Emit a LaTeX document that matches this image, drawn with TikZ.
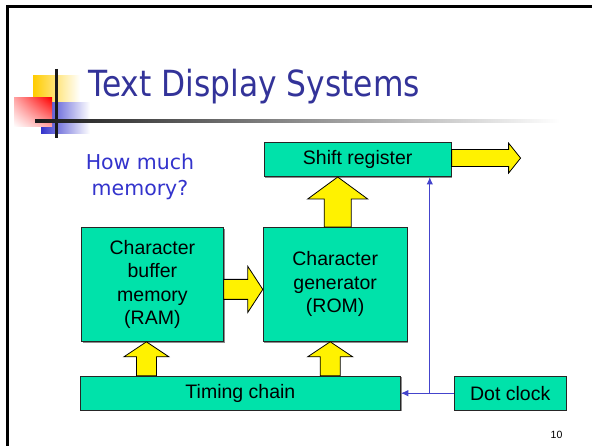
\documentclass[tikz,border=0pt]{standalone}
\usepackage{fontspec}
\setmainfont{Liberation Sans}
\newfontfamily\titlefont[FakeStretch=0.87]{DejaVu Sans}
\newfontfamily\notefont{DejaVu Sans}
\usetikzlibrary{positioning,calc,arrows.meta,shadows,shadings}

\definecolor{boxgreen}{RGB}{0,226,170}
\definecolor{titleblue}{RGB}{51,51,153}
\definecolor{noteblue}{RGB}{51,51,204}
\definecolor{clockblue}{RGB}{68,68,204}
\definecolor{logoyellow}{RGB}{255,204,0}
\definecolor{logored}{RGB}{255,0,0}
\definecolor{logoblue}{RGB}{51,51,204}

% fat yellow arrows: x from #1, base y from #2, tip y from #3
\newcommand{\fatup}[6]{%
  \draw[fatarrow] let \p1=#1, \p2=#2, \p3=#3 in
    (\x1-#4pt,\y2) -- (\x1-#4pt,\y3-#6pt) -- (\x1-#5pt,\y3-#6pt) -- (\x1,\y3)
    -- (\x1+#5pt,\y3-#6pt) -- (\x1+#4pt,\y3-#6pt) -- (\x1+#4pt,\y2) -- cycle;}
% y from #1, base x from #2, tip x from #3
\newcommand{\fatright}[6]{%
  \draw[fatarrow] let \p1=#1, \p2=#2, \p3=#3 in
    (\x2,\y1+#4pt) -- (\x3-#6pt,\y1+#4pt) -- (\x3-#6pt,\y1+#5pt) -- (\x3,\y1)
    -- (\x3-#6pt,\y1-#5pt) -- (\x3-#6pt,\y1-#4pt) -- (\x2,\y1-#4pt) -- cycle;}

\begin{document}
\begin{tikzpicture}[x=1pt, y=-1pt,
    block/.style={draw=black!85, line width=0.8pt, fill=boxgreen, inner sep=0pt, align=center,
                  font=\fontsize{19.5}{23.5}\selectfont,
                  drop shadow={shadow xshift=1.2pt, shadow yshift=-1.2pt, fill=black!45, opacity=1}},
    fatarrow/.style={draw=black, line width=0.8pt, fill=yellow},
    clockline/.style={draw=clockblue, line width=1pt, -{Latex[length=7.5pt,width=6.5pt]}}]
\useasboundingbox (0,0) rectangle (592,446);

% frame
\draw[line width=2.5pt] (7.5,5) -- (7.5,446);
\draw[line width=2.5pt] (6,6.5) -- (592,6.5);

% logo
\shade[left color=logoyellow, middle color=logoyellow, right color=white] (33,76) rectangle (80,104);
\shade[left color=logoblue, middle color=logoblue, right color=white] (41,103) rectangle (90,134);
\shade[upper right=logored, lower right=logored!35, upper left=logored!35, lower left=white] (14,98) rectangle (52,127);
\draw[line width=2.5pt, black!90] (56.7,69) -- (56.7,138);
\shade[left color=black!90, right color=white] (35,119.8) rectangle (560,122.5);

\node[anchor=base west, inner sep=0pt, text=titleblue, font=\titlefont\fontsize{36}{40}\selectfont] (title) at (88,97) {Text Display Systems};
\node[inner sep=0pt, align=center, text=noteblue, font=\notefont\fontsize{20.5}{26}\selectfont] (howmuch) at (140,176.6) {How much\\memory?};

% blocks
\node[block, minimum width=142pt, minimum height=114pt, anchor=north west] (ram) at (81,227) {Character\\buffer\\memory\\(RAM)};
\node[block, minimum width=144pt, minimum height=114pt, right=39pt of ram] (rom) {Character\\generator\\(ROM)};
\node[block, minimum width=187pt, minimum height=34pt, above=50pt of rom.north west, anchor=south west, xshift=1pt] (shift) {Shift register};
\node[block, minimum width=320pt, minimum height=34pt, below=34pt of ram.south west, anchor=north west, xshift=-1pt] (timing) {Timing chain};
\node[block, minimum width=112pt, minimum height=34pt, right=53pt of timing] (dotclk) {Dot clock};

\node[font=\fontsize{10.5}{12}\selectfont] (pagenum) at (556.5,434.5) {10};

% yellow data arrows
\fatup{($(ram.south)+(-6,0)$)}{(timing.north)}{(ram.south)}{10}{22.5}{15}
\fatup{($(rom.south)+(-5,0)$)}{(timing.north)}{(rom.south)}{10}{22.5}{15}
\fatup{($(rom.north)+(2.5,0)$)}{(rom.north)}{(shift.south)}{13.5}{30}{22}
\fatright{($(ram.east)+(0,5)$)}{(ram.east)}{(rom.west)}{10}{23}{15}
\coordinate (out) at ($(shift.east)+(69,0)$);
\fatright{($(shift.east)+(0,-1.5)$)}{(shift.east)}{(out)}{8.5}{15}{12}

% clock lines
\coordinate (split) at ($(timing.east)!0.547!(dotclk.west)$);
\draw[clockline] (dotclk.west) -- (timing.east);
\draw[clockline] (split) -- (split |- shift.south);

\end{tikzpicture}
\end{document}
